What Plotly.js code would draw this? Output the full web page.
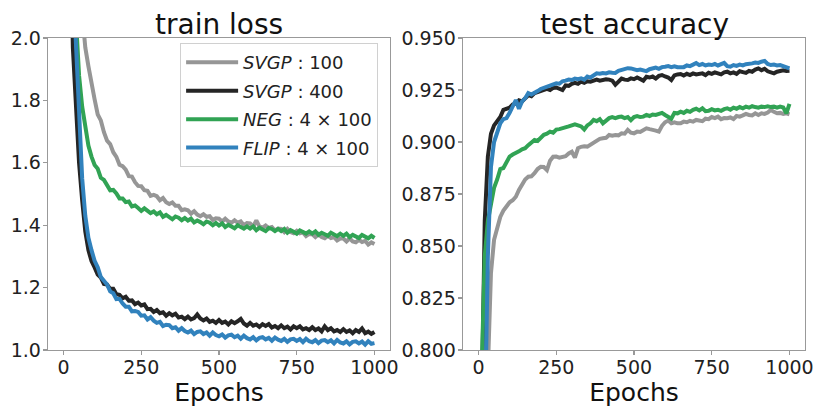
<!DOCTYPE html>
<html>
<head>
<meta charset="utf-8">
<script src="https://cdn.plot.ly/plotly-3.0.1.min.js"></script>
<style>
  html, body { margin: 0; padding: 0; background: #fff; }
  #chart { width: 830px; height: 415px; }
</style>
</head>
<body>
<div id="chart"></div>
<script>
// Epochs at which the curves were logged (every 10 epochs)
var epochs = [];
for (var e = 0; e <= 1000; e += 10) epochs.push(e);

var seriesNames = ["<i>SVGP</i> : 100", "<i>SVGP</i> : 400", "<i>NEG</i> : 4 × 100", "<i>FLIP</i> : 4 × 100"];
var seriesColors = ["#969696", "#252525", "#31a354", "#3182bd"];

// train loss
var lossSvgp100 = [5.0, 4.3, 3.6, 3.0, 2.55, 2.28, 2.08, 1.97, 1.91, 1.85,
  1.803, 1.755, 1.736, 1.698, 1.671, 1.660, 1.634, 1.619, 1.594, 1.589,
  1.578, 1.557, 1.556, 1.538, 1.526, 1.525, 1.512, 1.510, 1.494, 1.497,
  1.493, 1.480, 1.487, 1.474, 1.468, 1.473, 1.462, 1.462, 1.448, 1.451,
  1.448, 1.437, 1.445, 1.434, 1.429, 1.435, 1.427, 1.429, 1.417, 1.422,
  1.421, 1.412, 1.421, 1.412, 1.408, 1.416, 1.408, 1.412, 1.400, 1.407,
  1.406, 1.396, 1.415, 1.396, 1.392, 1.399, 1.391, 1.394, 1.383, 1.389,
  1.388, 1.378, 1.388, 1.378, 1.374, 1.382, 1.374, 1.377, 1.365, 1.372,
  1.371, 1.362, 1.371, 1.362, 1.358, 1.366, 1.359, 1.362, 1.351, 1.357,
  1.357, 1.348, 1.358, 1.348, 1.345, 1.353, 1.346, 1.350, 1.338, 1.345,
  1.340];
var lossSvgp400 = [4.0, 3.2, 2.5, 1.97, 1.78, 1.60, 1.48, 1.38, 1.32, 1.285,
  1.265, 1.242, 1.232, 1.212, 1.210, 1.196, 1.196, 1.179, 1.177, 1.166,
  1.171, 1.158, 1.159, 1.147, 1.152, 1.143, 1.146, 1.131, 1.132, 1.122,
  1.128, 1.118, 1.121, 1.110, 1.118, 1.111, 1.116, 1.104, 1.107, 1.099,
  1.107, 1.098, 1.102, 1.114, 1.101, 1.095, 1.101, 1.090, 1.094, 1.087,
  1.096, 1.087, 1.091, 1.082, 1.092, 1.086, 1.092, 1.100, 1.085, 1.078,
  1.087, 1.078, 1.082, 1.074, 1.083, 1.077, 1.083, 1.072, 1.077, 1.070,
  1.079, 1.070, 1.075, 1.066, 1.076, 1.070, 1.076, 1.066, 1.070, 1.064,
  1.073, 1.064, 1.069, 1.060, 1.076, 1.064, 1.070, 1.060, 1.064, 1.058,
  1.067, 1.058, 1.063, 1.054, 1.064, 1.058, 1.069, 1.054, 1.059, 1.052,
  1.058];
var lossNeg = [4.5, 3.6, 2.9, 2.4, 2.06, 1.88, 1.78, 1.71, 1.655, 1.62,
  1.593, 1.581, 1.552, 1.545, 1.529, 1.512, 1.513, 1.502, 1.486, 1.486,
  1.474, 1.476, 1.460, 1.463, 1.455, 1.446, 1.454, 1.448, 1.439, 1.444,
  1.435, 1.441, 1.427, 1.433, 1.426, 1.419, 1.428, 1.424, 1.416, 1.423,
  1.415, 1.421, 1.409, 1.415, 1.410, 1.403, 1.412, 1.408, 1.400, 1.407,
  1.399, 1.406, 1.394, 1.401, 1.396, 1.390, 1.400, 1.396, 1.389, 1.396,
  1.389, 1.396, 1.384, 1.392, 1.387, 1.381, 1.391, 1.388, 1.381, 1.388,
  1.381, 1.388, 1.376, 1.384, 1.379, 1.373, 1.383, 1.379, 1.373, 1.380,
  1.373, 1.380, 1.369, 1.376, 1.371, 1.366, 1.376, 1.372, 1.365, 1.373,
  1.366, 1.373, 1.362, 1.369, 1.364, 1.359, 1.369, 1.365, 1.358, 1.366,
  1.359];
var lossFlip = [4.2, 3.5, 2.8, 2.2, 1.98, 1.75, 1.55, 1.43, 1.36, 1.32,
  1.286, 1.265, 1.234, 1.222, 1.210, 1.188, 1.182, 1.163, 1.164, 1.149,
  1.139, 1.139, 1.124, 1.125, 1.122, 1.110, 1.111, 1.098, 1.105, 1.094,
  1.087, 1.090, 1.077, 1.081, 1.080, 1.070, 1.073, 1.062, 1.070, 1.061,
  1.056, 1.062, 1.051, 1.058, 1.060, 1.051, 1.056, 1.046, 1.056, 1.048,
  1.044, 1.050, 1.040, 1.047, 1.049, 1.041, 1.046, 1.036, 1.046, 1.038,
  1.034, 1.041, 1.031, 1.039, 1.041, 1.034, 1.039, 1.030, 1.040, 1.033,
  1.029, 1.036, 1.026, 1.034, 1.036, 1.029, 1.035, 1.025, 1.036, 1.028,
  1.025, 1.032, 1.022, 1.030, 1.032, 1.025, 1.031, 1.021, 1.032, 1.024,
  1.021, 1.028, 1.018, 1.026, 1.028, 1.021, 1.027, 1.017, 1.028, 1.020,
  1.022];

// test accuracy
var accSvgp100 = [0.20, 0.45, 0.65, 0.79, 0.837, 0.853, 0.859, 0.864, 0.867, 0.869,
  0.871, 0.872, 0.8737, 0.877, 0.880, 0.882, 0.8833, 0.8835, 0.885, 0.887,
  0.8881, 0.888, 0.8865, 0.891, 0.8929, 0.893, 0.8925, 0.893, 0.8932, 0.8945,
  0.8953, 0.8925, 0.897, 0.8977, 0.898, 0.8978, 0.8988, 0.900, 0.901, 0.9015,
  0.9018, 0.902, 0.9034, 0.903, 0.9034, 0.9032, 0.9042, 0.904, 0.9058, 0.9045,
  0.9042, 0.905, 0.9048, 0.9058, 0.9066, 0.9062, 0.906, 0.9055, 0.905, 0.9078,
  0.9095, 0.9103, 0.909, 0.9095, 0.909, 0.909, 0.9098, 0.9095, 0.9102, 0.9098,
  0.9106, 0.9104, 0.910, 0.9112, 0.911, 0.912, 0.9115, 0.9122, 0.911, 0.9115,
  0.9114, 0.9118, 0.911, 0.9125, 0.9122, 0.9128, 0.9135, 0.913, 0.9128, 0.9138,
  0.913, 0.9138, 0.9135, 0.9142, 0.9154, 0.9145, 0.9138, 0.914, 0.9135, 0.9138,
  0.9133];
var accSvgp400 = [0.30, 0.77, 0.862, 0.893, 0.904, 0.908, 0.910, 0.912, 0.9155, 0.916,
  0.9165, 0.918, 0.9185, 0.920, 0.9195, 0.921, 0.9225, 0.922, 0.9235, 0.924,
  0.9245, 0.925, 0.9255, 0.925, 0.926, 0.9262, 0.9255, 0.925, 0.9272, 0.927,
  0.928, 0.9285, 0.928, 0.929, 0.9285, 0.9292, 0.929, 0.9295, 0.930, 0.9295,
  0.930, 0.9302, 0.930, 0.9295, 0.9275, 0.929, 0.9305, 0.930, 0.9298, 0.9306,
  0.9302, 0.931, 0.9305, 0.9295, 0.9314, 0.931, 0.9315, 0.9305, 0.9318, 0.9322,
  0.9315, 0.931, 0.9298, 0.932, 0.9325, 0.9327, 0.932, 0.9328, 0.9322, 0.933,
  0.9325, 0.9328, 0.933, 0.9322, 0.9333, 0.9328, 0.9335, 0.933, 0.9325, 0.9335,
  0.9338, 0.933, 0.9335, 0.9328, 0.934, 0.9336, 0.9332, 0.9342, 0.9338, 0.9348,
  0.9354, 0.9345, 0.9352, 0.934, 0.9333, 0.933, 0.9338, 0.934, 0.9345, 0.9342,
  0.9343];
var accNeg = [0.30, 0.79, 0.845, 0.862, 0.870, 0.878, 0.882, 0.887, 0.8875, 0.890,
  0.893, 0.894, 0.8945, 0.8955, 0.8965, 0.897, 0.8985, 0.900, 0.901, 0.9005,
  0.902, 0.9035, 0.904, 0.905, 0.9045, 0.906, 0.9062, 0.9065, 0.907, 0.9075,
  0.908, 0.9085, 0.908, 0.9075, 0.906, 0.908, 0.909, 0.9106, 0.910, 0.911,
  0.909, 0.9105, 0.9115, 0.912, 0.9115, 0.912, 0.9122, 0.9115, 0.912, 0.9105,
  0.912, 0.9125, 0.912, 0.9122, 0.913, 0.9125, 0.9132, 0.913, 0.9135, 0.914,
  0.913, 0.9122, 0.9112, 0.914, 0.9138, 0.9146, 0.914, 0.915, 0.9145, 0.9155,
  0.916, 0.9152, 0.9162, 0.9148, 0.915, 0.9158, 0.9152, 0.9155, 0.915, 0.9158,
  0.9162, 0.9155, 0.9165, 0.916, 0.9168, 0.9162, 0.917, 0.9165, 0.9172, 0.9168,
  0.9165, 0.917, 0.9168, 0.9172, 0.9168, 0.917, 0.9165, 0.917, 0.9166, 0.9138,
  0.9183];
var accFlip = [0.20, 0.55, 0.76, 0.845, 0.888, 0.900, 0.904, 0.909, 0.911, 0.9115,
  0.914, 0.917, 0.9202, 0.916, 0.9195, 0.921, 0.9235, 0.9228, 0.9235, 0.9245,
  0.9255, 0.926, 0.9265, 0.927, 0.928, 0.9282, 0.928, 0.9292, 0.9295, 0.930,
  0.9298, 0.9305, 0.9302, 0.9306, 0.930, 0.9315, 0.931, 0.932, 0.933, 0.9328,
  0.9332, 0.933, 0.9335, 0.9333, 0.9332, 0.9342, 0.9346, 0.935, 0.9355, 0.9354,
  0.935, 0.9345, 0.9348, 0.9342, 0.9341, 0.935, 0.9354, 0.9358, 0.9352, 0.936,
  0.9362, 0.9365, 0.936, 0.9364, 0.936, 0.9362, 0.936, 0.9368, 0.9365, 0.9372,
  0.938, 0.937, 0.9375, 0.9368, 0.9372, 0.937, 0.9375, 0.9368, 0.9372, 0.938,
  0.9365, 0.9362, 0.937, 0.9366, 0.9372, 0.9368, 0.9374, 0.9375, 0.9378, 0.9382,
  0.938, 0.9386, 0.939, 0.9375, 0.937, 0.9372, 0.9368, 0.937, 0.9365, 0.936,
  0.9354];

var lossSeries = [lossSvgp100, lossSvgp400, lossNeg, lossFlip];
var accSeries = [accSvgp100, accSvgp400, accNeg, accFlip];

var traces = [];

// Left panel carries the legend, one group per curve so the gap applies
lossSeries.forEach(function (ys, i) {
    traces.push({
        x: epochs, y: ys,
        xaxis: "x", yaxis: "y",
        type: "scatter", mode: "lines",
        name: seriesNames[i],
        legendgroup: "g" + i,
        line: { color: seriesColors[i], width: 4 }
    });
});

accSeries.forEach(function (ys, i) {
    traces.push({
        x: epochs, y: ys,
        xaxis: "x2", yaxis: "y2",
        type: "scatter", mode: "lines",
        showlegend: false,
        line: { color: seriesColors[i], width: 4 }
    });
});

var font = "DejaVu Sans, sans-serif";
var spine = "#999999";

function xAxis(domain, anchor) {
    return {
        domain: domain, anchor: anchor,
        range: [-50, 1050],
        tickvals: [0, 250, 500, 750, 1000],
        ticks: "outside", ticklen: 4, tickwidth: 1.2, tickcolor: spine,
        ticklabelstandoff: -4,
        showline: true, mirror: true, linecolor: spine, linewidth: 1.3,
        showgrid: false, zeroline: false,
        tickfont: { family: font, size: 19, color: "#222" },
        title: { text: "Epochs", font: { family: font, size: 25, color: "#111" }, standoff: 0 }
    };
}

function yAxis(domain, anchor, range, dtick, fmt) {
    return {
        domain: domain, anchor: anchor,
        range: range, dtick: dtick, tickformat: fmt,
        ticks: "outside", ticklen: 4, tickwidth: 1.2, tickcolor: spine,
        ticklabelstandoff: -2,
        showline: true, mirror: true, linecolor: spine, linewidth: 1.3,
        showgrid: false, zeroline: false,
        tickfont: { family: font, size: 19, color: "#222" }
    };
}

var yDomain = [0.1566, 0.9084];

var layout = {
    width: 830, height: 415,
    margin: { l: 0, r: 0, t: 0, b: 0 },
    paper_bgcolor: "#fff", plot_bgcolor: "#fff",
    showlegend: true,
    xaxis: xAxis([0.0578, 0.4699], "y"),
    yaxis: yAxis(yDomain, "x", [1.0, 2.0], 0.2, ".1f"),
    xaxis2: xAxis([0.5578, 0.9699], "y2"),
    yaxis2: yAxis(yDomain, "x2", [0.8, 0.95], 0.025, ".3f"),
    legend: {
        x: 0.217, y: 0.896, xanchor: "left", yanchor: "top",
        bgcolor: "rgba(255,255,255,0.9)", bordercolor: "#d0d0d0", borderwidth: 1,
        font: { family: font, size: 18, color: "#222" },
        itemwidth: 52,
        tracegroupgap: 2
    },
    annotations: [
        { text: "train loss", xref: "paper", yref: "paper", x: 0.2639, y: 0.94,
          xanchor: "center", yanchor: "middle", showarrow: false,
          font: { family: font, size: 28, color: "#111" } },
        { text: "test accuracy", xref: "paper", yref: "paper", x: 0.7639, y: 0.94,
          xanchor: "center", yanchor: "middle", showarrow: false,
          font: { family: font, size: 28, color: "#111" } }
    ]
};

Plotly.newPlot("chart", traces, layout, { displayModeBar: false, staticPlot: true });
</script>
</body>
</html>
